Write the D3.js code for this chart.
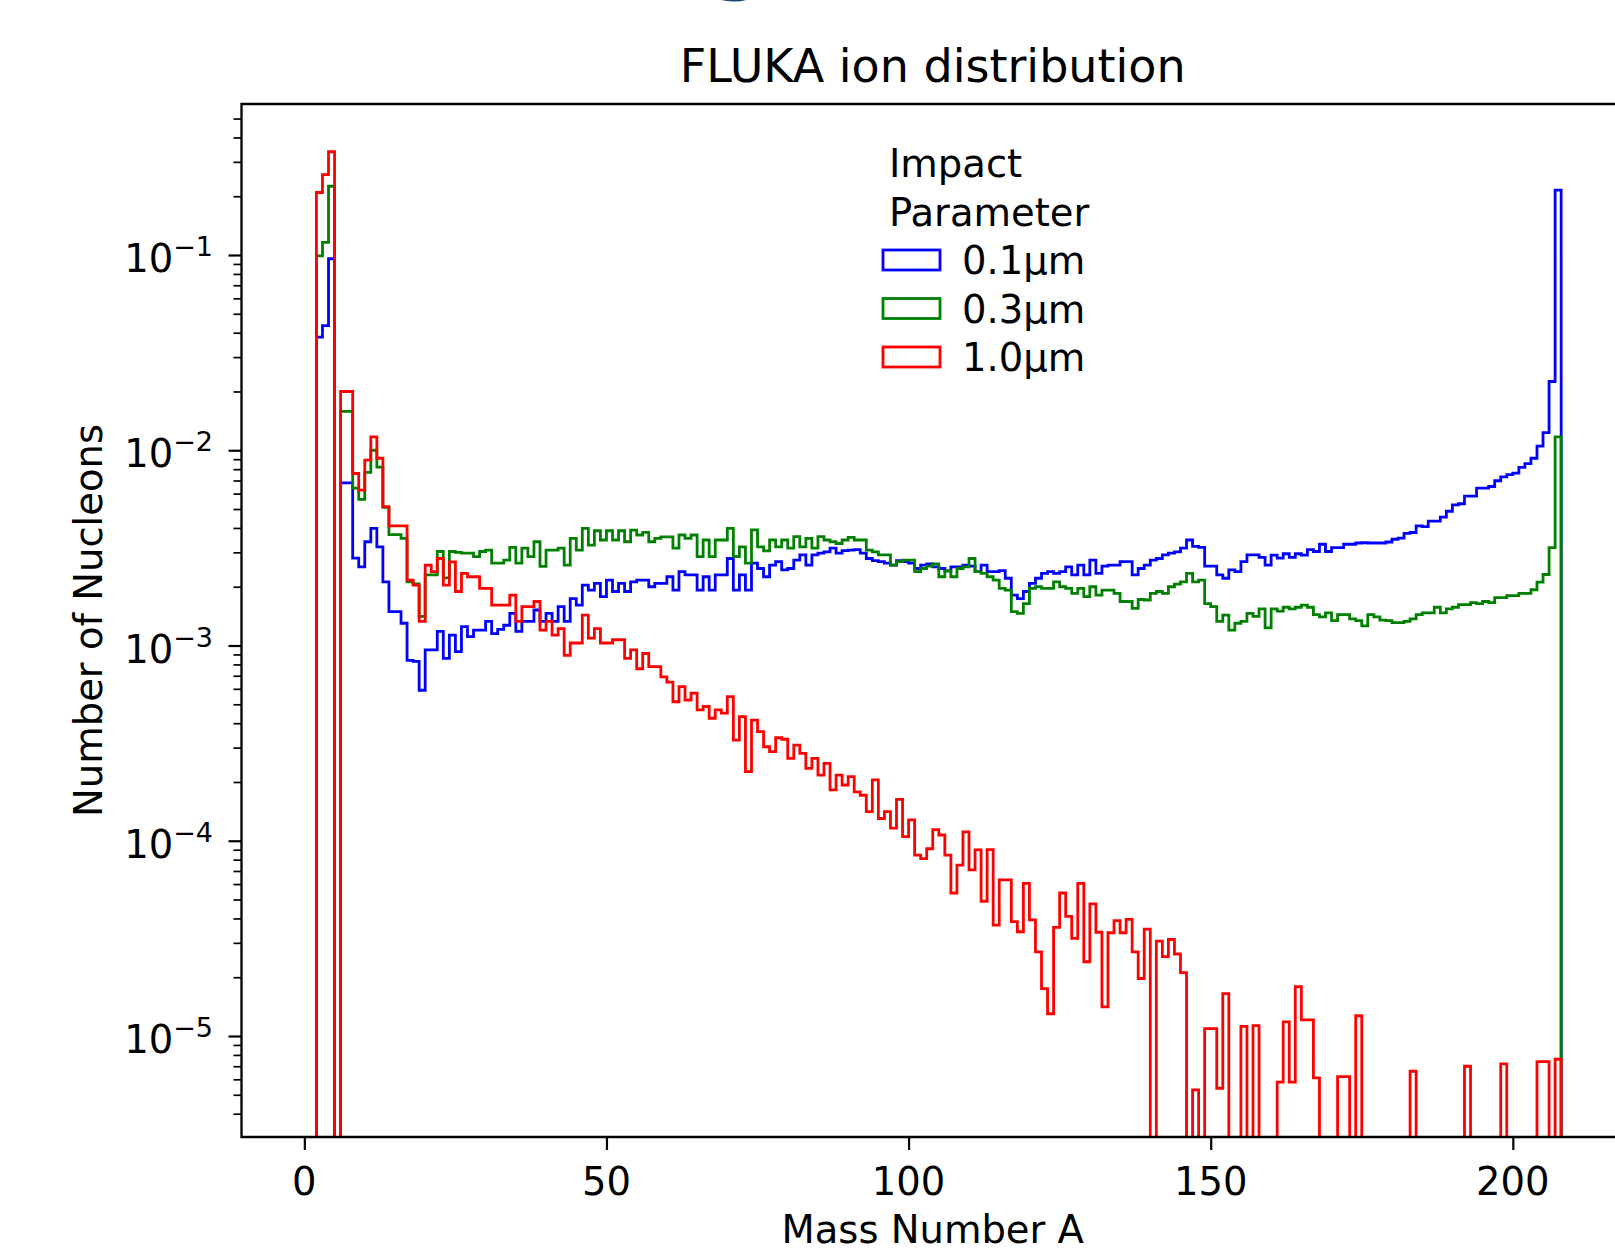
<!DOCTYPE html>
<html>
<head>
<meta charset="utf-8">
<script src="https://cdn.jsdelivr.net/npm/d3@7"></script>
<style>
  html, body { margin: 0; padding: 0; background: #ffffff; }
  svg { display: block; font-family: "DejaVu Sans", "Liberation Sans", sans-serif; }
</style>
</head>
<body>
<svg id="chart" width="1615" height="1252"></svg>
<script>
// ---------------- DATA ----------------
// Histogram bins: integer mass numbers, edges 0..208 (bin k covers [k, k+1))
const binEdges = d3.range(0, 209);

const seriesLabels = ["0.1μm", "0.3μm", "1.0μm"];
const seriesColors = ["#0000ff", "#008000", "#ff0000"];
const legendTitleLines = ["Impact", "Parameter"];

const xTickValues = [0, 50, 100, 150, 200];
const xTickLabels = ["0", "50", "100", "150", "200"];
const yMajorTicks = [1e-1, 1e-2, 1e-3, 1e-4, 1e-5];
const yTickExponents = ["−1", "−2", "−3", "−4", "−5"];

// 0.1 μm impact parameter (blue)
const blueValues = [
  0, 0, 0.038, 0.0435, 0.0957, 0, 0.0068, 0.0068, 0.0028, 0.00253,
  0.0034, 0.00398, 0.0032, 0.00212, 0.00149, 0.00149, 0.0013, 0.00084, 0.00083, 0.00059,
  0.00095, 0.00095, 0.00118, 0.00086, 0.00113, 0.00093, 0.00125, 0.00111, 0.0012, 0.0012,
  0.00133, 0.00115, 0.00121, 0.00127, 0.00146, 0.00118, 0.00133, 0.00133, 0.00152, 0.00133,
  0.00146, 0.00133, 0.00158, 0.00133, 0.00174, 0.00161, 0.00204, 0.00192, 0.00208, 0.00178,
  0.00216, 0.00189, 0.00208, 0.00189, 0.00212, 0.00216, 0.00216, 0.002, 0.00208, 0.00208,
  0.00225, 0.00192, 0.00239, 0.0023, 0.0023, 0.00192, 0.00225, 0.00192, 0.0023, 0.0023,
  0.00279, 0.00192, 0.0023, 0.00192, 0.00264, 0.00248, 0.00225, 0.00258, 0.00269, 0.00244,
  0.00248, 0.00274, 0.00291, 0.00258, 0.00291, 0.00297, 0.00302, 0.00315, 0.00297, 0.00306,
  0.00308, 0.0031, 0.00297, 0.00279, 0.00272, 0.00269, 0.00264, 0.00258, 0.00272, 0.00269,
  0.00264, 0.00248, 0.00258, 0.00262, 0.00253, 0.00248, 0.00241, 0.00253, 0.00253, 0.00258,
  0.00255, 0.00239, 0.00258, 0.00239, 0.00239, 0.00242, 0.00221, 0.00181, 0.00174, 0.00189,
  0.00208, 0.00221, 0.00234, 0.00239, 0.00234, 0.00239, 0.00253, 0.0023, 0.00258, 0.0023,
  0.00274, 0.00234, 0.00255, 0.00258, 0.00258, 0.00269, 0.00269, 0.0023, 0.00248, 0.00258,
  0.00274, 0.00279, 0.00291, 0.00297, 0.00302, 0.00315, 0.00347, 0.00322, 0.00318, 0.00255,
  0.00255, 0.0023, 0.00221, 0.00244, 0.00239, 0.00269, 0.00291, 0.00291, 0.00283, 0.00258,
  0.0029, 0.0028, 0.00295, 0.00283, 0.00295, 0.0029, 0.0031, 0.00303, 0.0033, 0.00303,
  0.00317, 0.00317, 0.0033, 0.0033, 0.00335, 0.00336, 0.00335, 0.00335, 0.00335, 0.00339,
  0.0035, 0.00355, 0.00375, 0.00379, 0.0041, 0.00406, 0.00434, 0.00434, 0.00454, 0.00487,
  0.00525, 0.00532, 0.00582, 0.00582, 0.0064, 0.0064, 0.00652, 0.00698, 0.0073, 0.0075,
  0.00763, 0.00817, 0.00855, 0.0091, 0.0105, 0.0123, 0.0225, 0.215
];

// 0.3 μm impact parameter (green)
const greenValues = [
  0, 0, 0.099, 0.116, 0.225, 0, 0.0158, 0.0158, 0.0064, 0.0056,
  0.0077, 0.01, 0.0082, 0.0051, 0.0037, 0.0037, 0.00354, 0.00212, 0.00207, 0.00141,
  0.0023, 0.0023, 0.00303, 0.00222, 0.00303, 0.003, 0.00297, 0.00297, 0.00285, 0.00303,
  0.00308, 0.00264, 0.00264, 0.00274, 0.00318, 0.00264, 0.00315, 0.00285, 0.0034, 0.00254,
  0.00308, 0.00308, 0.00315, 0.00258, 0.00354, 0.00308, 0.00398, 0.00327, 0.00387, 0.00347,
  0.00387, 0.00347, 0.00387, 0.0034, 0.0039, 0.00368, 0.0038, 0.0034, 0.00354, 0.0036,
  0.0036, 0.00315, 0.00368, 0.00354, 0.00368, 0.00285, 0.00347, 0.00285, 0.00347, 0.00347,
  0.00398, 0.00285, 0.0032, 0.00264, 0.00391, 0.0032, 0.00305, 0.00347, 0.0032, 0.00347,
  0.00315, 0.00361, 0.0032, 0.00354, 0.00315, 0.00361, 0.00347, 0.0034, 0.00333, 0.00347,
  0.00358, 0.00347, 0.00347, 0.00308, 0.00302, 0.00291, 0.00291, 0.00258, 0.00269, 0.00274,
  0.00274, 0.00239, 0.00248, 0.00255, 0.00262, 0.00225, 0.00241, 0.00225, 0.00248, 0.00253,
  0.00279, 0.00239, 0.00234, 0.00225, 0.00216, 0.00196, 0.00192, 0.00149, 0.00146, 0.00164,
  0.00196, 0.002, 0.00196, 0.00196, 0.00212, 0.002, 0.00196, 0.00185, 0.00196, 0.00178,
  0.002, 0.00181, 0.00192, 0.00192, 0.00185, 0.00168, 0.00168, 0.00155, 0.00172, 0.00171,
  0.00185, 0.00189, 0.00185, 0.002, 0.00206, 0.00212, 0.00234, 0.00212, 0.00216, 0.00164,
  0.00158, 0.00133, 0.00143, 0.0012, 0.0013, 0.00133, 0.00146, 0.00141, 0.00154, 0.00123,
  0.00154, 0.0015, 0.00157, 0.00154, 0.00157, 0.00161, 0.00157, 0.00144, 0.0014, 0.00147,
  0.00134, 0.00144, 0.00144, 0.00137, 0.00134, 0.00126, 0.00144, 0.0014, 0.00135, 0.00134,
  0.00131, 0.00131, 0.00133, 0.00137, 0.00144, 0.00147, 0.00147, 0.00157, 0.00147, 0.00154,
  0.00157, 0.00162, 0.00162, 0.00166, 0.00164, 0.00168, 0.00166, 0.00176, 0.00176, 0.0018,
  0.0018, 0.00185, 0.00185, 0.00193, 0.00211, 0.00231, 0.00317, 0.0117
];

// 1.0 μm impact parameter (red)
const redValues = [
  0, 0, 0.209, 0.258, 0.338, 0, 0.02, 0.02, 0.0076, 0.00625,
  0.0089, 0.0117, 0.0091, 0.00514, 0.0041, 0.0041, 0.0041, 0.00216, 0.00204, 0.00133,
  0.00258, 0.00239, 0.00279, 0.00204, 0.00268, 0.00189, 0.00234, 0.00225, 0.00225, 0.00196,
  0.00196, 0.00161, 0.00161, 0.00161, 0.00181, 0.00133, 0.00158, 0.00158, 0.00168, 0.0012,
  0.00133, 0.00113, 0.00122, 0.00089, 0.00103, 0.00103, 0.00143, 0.00109, 0.00122, 0.00103,
  0.00103, 0.00107, 0.00107, 0.00086, 0.00095, 0.00076, 0.00091, 0.00078, 0.00078, 0.00069,
  0.00065, 0.000515, 0.000615, 0.000526, 0.00057, 0.000468, 0.000487, 0.000424, 0.000468, 0.00045,
  0.000547, 0.000328, 0.000432, 0.000226, 0.000415, 0.000362, 0.000303, 0.000286, 0.000337, 0.000331,
  0.000264, 0.000309, 0.00028, 0.000235, 0.000264, 0.000217, 0.000249, 0.000182, 0.000217, 0.000193,
  0.000213, 0.000178, 0.000171, 0.000141, 0.000205, 0.00013, 0.000141, 0.000116, 0.000163, 0.000105,
  0.000128, 0.0000845, 0.000081, 0.000091, 0.000114, 0.000107, 0.0000845, 0.000054, 0.000075, 0.000111,
  0.000071, 0.0000897, 0.000049, 0.00009, 0.000037, 0.000063, 0.000063, 0.0000385, 0.0000342, 0.0000605,
  0.0000393, 0.000027, 0.0000175, 0.000013, 0.000036, 0.000054, 0.000041, 0.0000316, 0.0000605, 0.000024,
  0.0000475, 0.000034, 0.0000141, 0.0000338, 0.000039, 0.0000338, 0.0000396, 0.000027, 0.0000197, 0.0000353,
  0, 0.0000306, 0.0000255, 0.0000312, 0.0000263, 0.0000211, 0, 0.0000053, 0, 0.0000109,
  0.0000109, 0.0000054, 0.0000165, 0, 0, 0.0000112, 0, 0.0000113, 0, 0,
  0, 0.0000058, 0.0000118, 0.0000058, 0.0000179, 0.0000121, 0.0000121, 0.0000061, 0, 0,
  0, 0.0000062, 0.0000062, 0, 0.0000127, 0, 0, 0, 0, 0,
  0, 0, 0, 0.0000066, 0, 0, 0, 0, 0, 0,
  0, 0, 0.000007, 0, 0, 0, 0, 0, 0.0000072, 0,
  0, 0, 0, 0, 0.0000074, 0.0000074, 0, 0.0000076
];

// ---------------- LAYOUT ----------------
const svg = d3.select("#chart");
const plot = { left: 241.5, top: 104, bottom: 1137, right: 1624 };
const FONT = 38.5;

const x = d3.scaleLinear().domain([-10.4, 218.4]).range([plot.left, plot.right]);
const y = d3.scaleLog().domain([Math.pow(10, -5.5173), Math.pow(10, -0.2266)]).range([plot.bottom, plot.top]);
const FLOOR = 1e-9; // zero-count bins drop below the axis (clipped), as on a log axis

// Partial heading glyph cut off at the very top of the picture
svg.append("text")
  .attr("x", 707).attr("y", -17)
  .attr("font-size", 88).attr("font-weight", "bold")
  .attr("fill", "#1c4270")
  .text("g");

// Clip path for the axes area
svg.append("defs").append("clipPath").attr("id", "axclip")
  .append("rect")
  .attr("x", plot.left).attr("y", plot.top)
  .attr("width", plot.right - plot.left).attr("height", plot.bottom - plot.top);

// ---------------- HISTOGRAM STEPS ----------------
function stepPoints(values) {
  const pts = [[binEdges[0], FLOOR]];
  values.forEach((v, i) => {
    const vv = v > 0 ? v : FLOOR;
    pts.push([binEdges[i], vv]);
    pts.push([binEdges[i + 1], vv]);
  });
  pts.push([binEdges[values.length], FLOOR]);
  return pts;
}
const stepLine = d3.line().x(d => x(d[0])).y(d => y(d[1]));

const seriesValues = [blueValues, greenValues, redValues];
const gLines = svg.append("g").attr("clip-path", "url(#axclip)");
seriesValues.forEach((vals, i) => {
  gLines.append("path")
    .attr("d", stepLine(stepPoints(vals)))
    .attr("fill", "none")
    .attr("stroke", seriesColors[i])
    .attr("stroke-width", 2.8)
    .attr("stroke-linejoin", "miter");
});

// ---------------- AXES ----------------
// Frame (left, top, bottom spines; right spine lies outside the picture)
svg.append("path")
  .attr("d", `M${plot.right},${plot.top}H${plot.left}V${plot.bottom}H${plot.right}`)
  .attr("fill", "none").attr("stroke", "#000").attr("stroke-width", 2.3);

// X axis ticks
const xAxis = d3.axisBottom(x).tickValues(xTickValues).tickSize(13).tickFormat(() => "");
const gx = svg.append("g").attr("transform", `translate(0,${plot.bottom})`).call(xAxis);
gx.select(".domain").remove();
gx.selectAll(".tick line").attr("stroke", "#000").attr("stroke-width", 2.2);
xTickValues.forEach((v, i) => {
  svg.append("text")
    .attr("x", x(v)).attr("y", 1195)
    .attr("text-anchor", "middle")
    .attr("font-size", FONT).attr("fill", "#000")
    .text(xTickLabels[i]);
});

// Y axis major ticks
const yAxis = d3.axisLeft(y).tickValues(yMajorTicks).tickSize(13).tickFormat(() => "");
const gy = svg.append("g").attr("transform", `translate(${plot.left},0)`).call(yAxis);
gy.select(".domain").remove();
gy.selectAll(".tick line").attr("stroke", "#000").attr("stroke-width", 2.2);

// Y axis minor ticks
const yDom = y.domain();
const minorTicks = [];
for (let e = -6; e <= 0; e++) {
  for (let m = 2; m <= 9; m++) {
    const v = m * Math.pow(10, e);
    if (v >= yDom[0] && v <= yDom[1]) minorTicks.push(v);
  }
}
const yMinor = d3.axisLeft(y).tickValues(minorTicks).tickSize(8).tickFormat(() => "");
const gym = svg.append("g").attr("transform", `translate(${plot.left},0)`).call(yMinor);
gym.select(".domain").remove();
gym.selectAll(".tick line").attr("stroke", "#000").attr("stroke-width", 1.7);

// Y tick labels 10^n
yMajorTicks.forEach((v, i) => {
  const t = svg.append("text")
    .attr("x", 213).attr("y", y(v) + 17)
    .attr("text-anchor", "end")
    .attr("font-size", FONT).attr("fill", "#000");
  t.append("tspan").text("10");
  t.append("tspan").attr("dy", -16).attr("font-size", 27).text(yTickExponents[i]);
});

// Axis labels and title
svg.append("text")
  .attr("x", (plot.left + plot.right) / 2).attr("y", 1243)
  .attr("text-anchor", "middle").attr("font-size", FONT).attr("fill", "#000")
  .text("Mass Number A");

svg.append("text")
  .attr("transform", `translate(102,${(plot.top + plot.bottom) / 2}) rotate(-90)`)
  .attr("text-anchor", "middle").attr("font-size", FONT).attr("fill", "#000")
  .text("Number of Nucleons");

svg.append("text")
  .attr("x", (plot.left + plot.right) / 2).attr("y", 82)
  .attr("text-anchor", "middle").attr("font-size", 46).attr("fill", "#000")
  .text("FLUKA ion distribution");

// ---------------- LEGEND ----------------
const legend = svg.append("g");
legendTitleLines.forEach((s, i) => {
  legend.append("text")
    .attr("x", 889).attr("y", 177 + i * 48.5)
    .attr("font-size", FONT).attr("fill", "#000")
    .text(s);
});
const legendCenters = [260, 308.5, 357];
seriesLabels.forEach((lab, i) => {
  legend.append("rect")
    .attr("x", 883).attr("y", legendCenters[i] - 10)
    .attr("width", 57).attr("height", 20)
    .attr("fill", "none").attr("stroke", seriesColors[i]).attr("stroke-width", 2.8);
  legend.append("text")
    .attr("x", 962).attr("y", legendCenters[i] + 14)
    .attr("font-size", FONT).attr("fill", "#000")
    .text(lab);
});
</script>
</body>
</html>
